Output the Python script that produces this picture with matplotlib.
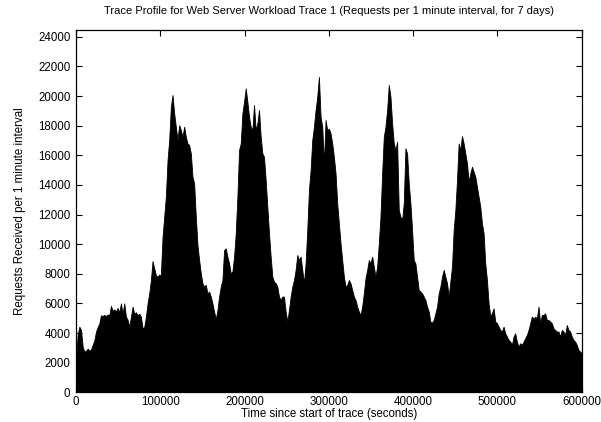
import numpy as np
import matplotlib
matplotlib.use("Agg")
import matplotlib.pyplot as plt

plt.rcParams["font.family"] = ["Liberation Sans", "DejaVu Sans"]

# requests per interval (~1974 s apart), split in three stretches
requests_part1 = [
    2180, 3900, 4430, 4200, 3080, 2750, 2800, 2950, 2800, 2900, 3200, 3500, 4100, 4400,
    4650, 5200, 5150, 5220, 5150, 5250, 5200, 5830, 5500, 5600, 5450, 5700, 5400, 6000,
    5300, 6000, 5100, 4900, 4430, 5100, 5780, 5300, 5400, 5200, 5300, 5100, 4320, 4400,
    5100, 6000, 6680, 7580, 8860, 8370, 7900, 7800, 7950, 7900, 10500, 11860, 13200,
    15680, 17030, 19280, 20070, 18830, 17930, 17030, 18040, 17700, 17250, 17930, 17250,
    16800, 16700, 16130, 14560, 14100, 11860, 9950, 8930, 8030, 7360, 7130, 7250, 6680,
    6800, 6460, 6000, 5450, 4930, 5560, 6460, 7130, 7580, 9600, 9720, 9160, 8700, 8030,
    8150, 9160, 10730, 13200, 16360, 16800, 18830, 19620, 20520, 19620, 18600, 17930,
]
requests_part2 = [
    17700, 19400, 17700, 18160, 19060, 17250, 16130, 15900, 14330, 12530, 10730, 9160,
    7810, 7470, 7360, 7130, 6460, 6230, 6460, 6460, 5450, 4770, 5560, 6460, 7130, 7580,
    8260, 9270, 8930, 9160, 8260, 7360, 8700, 10960, 13660, 15010, 17030, 17930, 19060,
    19960, 21300, 18600, 17930, 15460, 18380, 17700, 17800, 17480, 16800, 15900, 14780,
    12760, 11410, 10060, 8930, 7810, 7130, 7250, 7580, 7360, 6910, 6460, 6230, 5780,
    5450, 5220, 5780, 6680, 7700, 8260, 8930, 8700, 9160, 8480, 7810, 8480, 10060, 11860,
    14780, 17250, 17930, 19060, 20750, 19960, 18160, 16800, 16360, 16920, 12300, 11860,
    11630, 12760, 16470, 16130, 14100, 12760, 10960, 8930, 8700, 7810, 6910, 6800, 6680,
    6460, 6230,
]
requests_part3 = [
    5780, 5450, 4770, 4700, 4880, 5330, 5780, 6680, 7130, 7810, 8260, 7810, 7360, 6460,
    7470, 8480, 10960, 12300, 14330, 16800, 16360, 17300, 16800, 16130, 15460, 14220,
    14780, 15230, 14890, 14560, 13880, 13200, 12530, 11410, 10730, 8700, 7580, 6000,
    5150, 5330, 5670, 4770, 4660, 4430, 4210, 4100, 4430, 3980, 3760, 3530, 3420, 3200,
    3760, 3980, 3420, 3080, 3310, 3200, 3420, 3650, 3870, 4210, 4660, 5110, 4990, 5100,
    4990, 5780, 4660, 5220, 5220, 5330, 4880, 4880, 4770, 4660, 4320, 4210, 4100, 4100,
    3760, 4210, 4100, 3870, 4540, 4210, 4100, 3760, 3530, 3420, 3200, 2860, 2750, 2630,
]
trace_end = 600000  # seconds

requests = np.array(requests_part1 + requests_part2 + requests_part3)
seconds = np.linspace(0, trace_end, len(requests))

fig = plt.figure(figsize=(6.01, 4.22), dpi=100)
ax = fig.add_axes([0.1265, 0.0705, 0.8415, 0.858])

ax.fill_between(seconds, requests, color="black", linewidth=0.6, edgecolor="black")

ax.set_xlim(0, 600000)
ax.set_ylim(0, 24450)
ax.set_xticks(np.arange(0, 600001, 100000))
ax.set_yticks(np.arange(0, 24001, 2000))
ax.tick_params(direction="in", length=4, width=0.8, top=True, right=True,
               labelsize=8.3)
ax.tick_params(axis="x", pad=3)
ax.tick_params(axis="y", pad=4)
for s in ax.spines.values():
    s.set_linewidth(0.9)
    s.set_zorder(3)

ax.set_title("Trace Profile for Web Server Workload Trace 1 (Requests per 1 minute interval, for 7 days)",
             fontsize=8, pad=12)
ax.set_xlabel("Time since start of trace (seconds)", fontsize=8.3, labelpad=0)
ax.set_ylabel("Requests Received per 1 minute interval", fontsize=8.3, labelpad=9)

fig.savefig("out.png", dpi=100)
